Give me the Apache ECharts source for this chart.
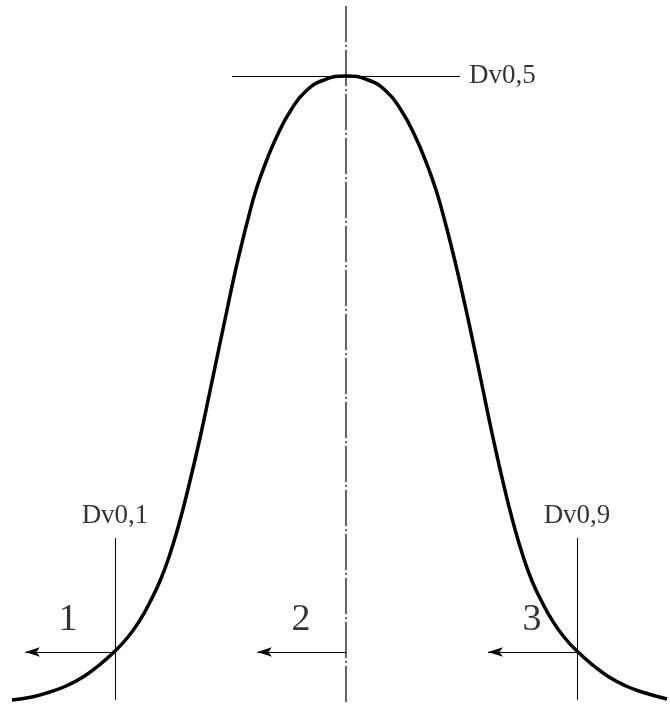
<!DOCTYPE html>
<html>
<head>
<meta charset="utf-8">
<script src="https://cdn.jsdelivr.net/npm/echarts@6/dist/echarts.min.js"></script>
<style>
    html, body { margin: 0; padding: 0; background: #fff; }
    #chart { width: 670px; height: 704px; }
</style>
</head>
<body>
<div id="chart"></div>
<script>
// curve (x along the axis, height above the bottom edge)
const curveX = [12, 32, 50, 66, 83, 98, 114, 128, 140, 150, 160, 169, 179, 189, 200, 210, 219, 227, 234, 241, 248, 256, 266, 277, 291, 306, 324, 346,
    368, 386, 401, 415, 426, 436, 444, 451, 458, 465, 473, 482, 492, 503, 513, 523, 532, 542, 552, 564, 578, 594, 609, 626, 642, 667];
const curveY = [4, 7, 12, 18, 27, 38, 52, 67, 84, 102, 123, 147, 180, 219, 266, 313, 356, 394, 427, 457, 485, 514, 542, 568, 594, 613, 624, 628,
    624, 613, 594, 568, 542, 514, 486, 459, 430, 399, 362, 319, 271, 222, 182, 148, 123, 102, 84, 67, 52, 38, 27, 18, 12, 5];

// percentile positions
const dvNames = ['Dv0,1', 'Dv0,5', 'Dv0,9'];
const dvX = [115, 346, 577];
const peakY = 628;
const crossY = 52;

// arrow tips and zone numbers
const arrowTipX = [25, 257, 488];
const zoneNames = ['1', '2', '3'];
const zoneX = [68, 301, 532];
const zoneY = 84;

const serif = '"Liberation Serif", "DejaVu Serif", serif';

let myChart = echarts.init(document.getElementById('chart'));

let curveData = curveX.map((x, i) => [x, curveY[i]]);

let arrowLines = dvX.map((x, i) => [
    { coord: [x, crossY], symbol: 'none' },
    { coord: [arrowTipX[i], crossY], symbol: 'arrow' }
]);

let guideLines = [
    [{ coord: [dvX[0], 4] }, { coord: [dvX[0], 166] }],
    [{ coord: [dvX[2], 4] }, { coord: [dvX[2], 166] }],
    [{ coord: [232, peakY] }, { coord: [460, peakY] }]
];

let option = {
    animation: false,
    backgroundColor: '#fff',
    grid: { left: 0, right: 0, top: 0, bottom: 0 },
    xAxis: { type: 'value', min: 0, max: 670, show: false },
    yAxis: { type: 'value', min: 0, max: 704, show: false },
    series: [
        {
            type: 'line',
            data: curveData,
            smooth: 0.5,
            showSymbol: false,
            lineStyle: { color: '#000', width: 3.5 },
            silent: true
        },
        {
            // centre line, dash-dot
            type: 'line',
            data: [[dvX[1], 2], [dvX[1], 699]],
            showSymbol: false,
            lineStyle: { color: '#000', width: 1.2, type: [36, 3, 2, 3] },
            silent: true
        },
        {
            type: 'line',
            data: [],
            silent: true,
            markLine: {
                silent: true,
                symbol: ['none', 'none'],
                label: { show: false },
                lineStyle: { color: '#000', width: 1, type: 'solid' },
                data: guideLines
            }
        },
        {
            type: 'line',
            data: [],
            silent: true,
            markLine: {
                silent: true,
                symbolSize: [7, 15],
                label: { show: false },
                lineStyle: { color: '#000', width: 1, type: 'solid' },
                itemStyle: { color: '#000' },
                data: arrowLines
            }
        },
        {
            type: 'scatter',
            symbolSize: 0,
            silent: true,
            data: [
                { value: [dvX[0], 188], name: dvNames[0] },
                { value: [dvX[2], 188], name: dvNames[2] },
                { value: [469, peakY], name: dvNames[1], label: { position: 'right', distance: 0 } }
            ],
            label: {
                show: true,
                position: 'inside',
                formatter: '{b}',
                color: '#000',
                fontFamily: serif,
                fontSize: 27
            }
        },
        {
            type: 'scatter',
            symbolSize: 0,
            silent: true,
            data: zoneX.map((x, i) => ({ value: [x, zoneY], name: zoneNames[i] })),
            label: {
                show: true,
                position: 'inside',
                formatter: '{b}',
                color: '#000',
                fontFamily: serif,
                fontSize: 38
            }
        }
    ]
};

myChart.setOption(option);
</script>
</body>
</html>
